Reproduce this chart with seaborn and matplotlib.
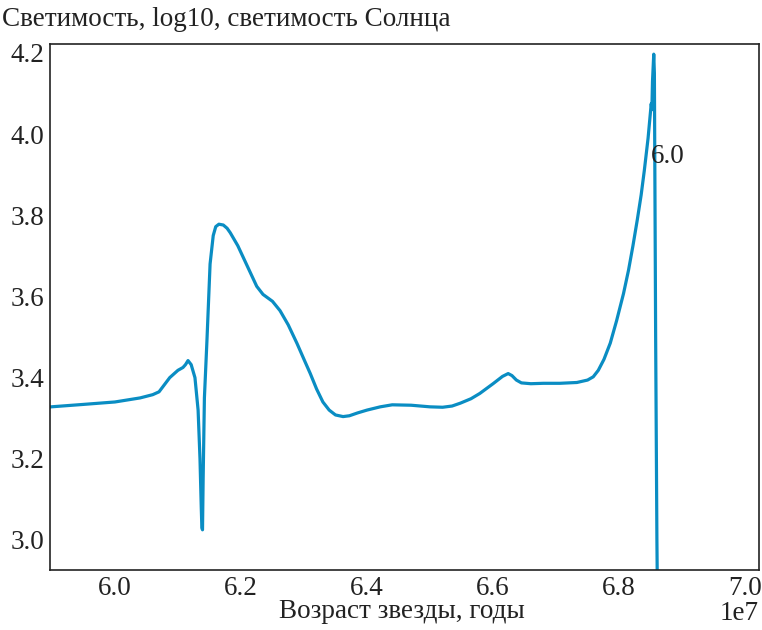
import numpy as np
import pandas as pd
import matplotlib
matplotlib.use("Agg")
import matplotlib.pyplot as plt
import seaborn as sns

# Age (years, in units of 1e7) and log10 luminosity
age_e7 = [5.890, 5.950, 6.000, 6.040, 6.060, 6.070, 6.087, 6.100, 6.108, 6.112,
          6.116, 6.121, 6.127, 6.132, 6.135, 6.137, 6.138, 6.139, 6.140, 6.142,
          6.146, 6.151, 6.156, 6.160, 6.165, 6.172, 6.178, 6.183, 6.195, 6.210,
          6.225, 6.235, 6.250, 6.262, 6.275, 6.289, 6.300, 6.310, 6.320, 6.330,
          6.340, 6.350, 6.362, 6.372, 6.385, 6.400, 6.421, 6.440, 6.470, 6.500,
          6.520, 6.535, 6.548, 6.565, 6.579, 6.600, 6.615, 6.624, 6.630, 6.637,
          6.645, 6.660, 6.680, 6.706, 6.733, 6.750, 6.759, 6.767, 6.776, 6.786,
          6.796, 6.807, 6.815, 6.822, 6.829, 6.835, 6.840, 6.846, 6.851, 6.852,
          6.853, 6.855, 6.856, 6.858, 6.860, 6.863]
log_lum = [3.327, 3.334, 3.340, 3.350, 3.358, 3.365, 3.400, 3.418, 3.425, 3.432,
           3.442, 3.432, 3.400, 3.320, 3.200, 3.080, 3.030, 3.025, 3.150, 3.350,
           3.490, 3.680, 3.750, 3.772, 3.778, 3.776, 3.768, 3.757, 3.725, 3.675,
           3.625, 3.605, 3.588, 3.565, 3.530, 3.484, 3.445, 3.410, 3.372, 3.340,
           3.320, 3.308, 3.304, 3.306, 3.313, 3.320, 3.328, 3.333, 3.332, 3.328,
           3.327, 3.330, 3.337, 3.348, 3.361, 3.385, 3.403, 3.410, 3.405, 3.394,
           3.387, 3.385, 3.386, 3.386, 3.388, 3.394, 3.402, 3.418, 3.445, 3.485,
           3.540, 3.607, 3.665, 3.725, 3.790, 3.850, 3.910, 3.990, 4.075, 4.060,
           4.130, 4.197, 4.150, 3.500, 3.000, 2.500]

x_ticks_e7 = [6.0, 6.2, 6.4, 6.6, 6.8, 7.0]
x_tick_labels = ["6.0", "6.2", "6.4", "6.6", "6.8", "7.0"]
y_ticks = [3.0, 3.2, 3.4, 3.6, 3.8, 4.0, 4.2]
y_tick_labels = ["3.0", "3.2", "3.4", "3.6", "3.8", "4.0", "4.2"]

mass_label = "6.0"
label_age_e7 = 6.850
label_lum = 3.946

df = pd.DataFrame({"age": np.array(age_e7) * 1e7, "lum": log_lum})

FS = 19.5
INK = "#222222"

sns.set_theme(style="white")
plt.rcParams["font.family"] = ["Liberation Serif", "DejaVu Serif"]
plt.rcParams["axes.unicode_minus"] = False

fig = plt.figure(figsize=(7.62, 6.30), dpi=100)
ax = fig.add_axes([50 / 762, 1 - 570 / 630, (759 - 50) / 762, (570 - 44) / 630])

sns.lineplot(data=df, x="age", y="lum", ax=ax, sort=False, color="#0a8dc3",
             linewidth=2.3, estimator=None)

ax.text(label_age_e7 * 1e7, label_lum, mass_label, ha="left", va="center",
        fontsize=FS, color=INK)

ax.set_xlim(5.897e7, 7.022e7)
ax.set_ylim(2.926, 4.222)
ax.set_xticks([v * 1e7 for v in x_ticks_e7], x_tick_labels)
ax.set_yticks(y_ticks, y_tick_labels)
ax.set_xlabel("")
ax.set_ylabel("")
ax.tick_params(axis="both", direction="in", length=6, width=1.0, colors=INK,
               labelsize=FS, labelcolor=INK, pad=4)
for s in ax.spines.values():
    s.set_color(INK)
    s.set_linewidth(1.2)

fig.text(0.002, 1 - 19 / 630, "Светимость, log10, светимость Солнца",
         ha="left", va="center", fontsize=FS, color=INK)
fig.text(402 / 762, 1 - 612 / 630, "Возраст звезды, годы",
         ha="center", va="center", fontsize=FS, color=INK)
fig.text(759 / 762, 1 - 614 / 630, "1e7",
         ha="right", va="center", fontsize=FS, color=INK)

fig.savefig("out.png", dpi=100)
